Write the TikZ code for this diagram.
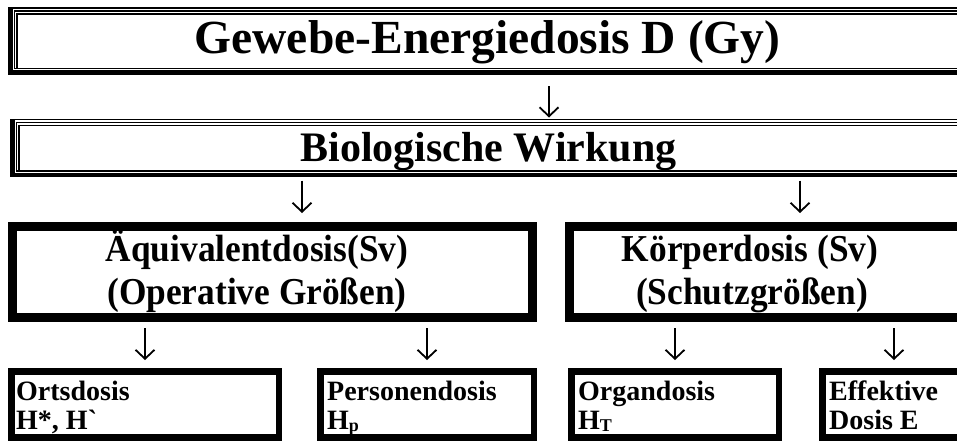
\documentclass[tikz,border=0pt]{standalone}
\usepackage{fontspec}
\newfontfamily\normfont{Liberation Serif}
\newfontfamily\schmalfont[FakeStretch=0.93]{Liberation Serif}
\usetikzlibrary{arrows.meta,positioning,calc}

\begin{document}
\begin{tikzpicture}[x=1pt,y=-1pt,
  rahmen/.style={draw, line width=1.1pt, inner sep=0pt, outer sep=0pt},
  dick/.style={draw, line width=#1, inner sep=0pt, outer sep=0pt},
  pfeil/.style={line width=1.2pt, -{Straight Barb[length=9pt,width=19pt,line width=1.8pt]}},
  titel/.style={font=\normfont\bfseries\fontsize{47.5}{54}\selectfont, anchor=base, inner sep=0pt},
  bio/.style={font=\normfont\bfseries\fontsize{42}{48}\selectfont, anchor=base, inner sep=0pt},
  mittel/.style={font=\schmalfont\bfseries\fontsize{38}{44}\selectfont, anchor=base, inner sep=0pt},
  klein/.style={font=\normfont\bfseries\fontsize{28}{31}\selectfont, anchor=base west, inner sep=0pt}]
\useasboundingbox (0,0) rectangle (957,440);
\clip (0,0) rectangle (957,440);
\fill[white] (0,0) rectangle (957,440);

% Gewebe-Energiedosis
\node[rahmen, minimum width=957pt, minimum height=66pt] (gewebe) at (487.5,41) {};
\draw[rahmen] ([shift={(5.5pt,-3pt)}]gewebe.north west) rectangle ([shift={(-3pt,5.5pt)}]gewebe.south east);
\draw[rahmen] ([shift={(8pt,-6pt)}]gewebe.north west) rectangle ([shift={(-6pt,5.5pt)}]gewebe.south east);
\draw[line width=4pt] ([xshift=2pt]gewebe.north west) |- ([yshift=2pt]gewebe.south east);
\node[titel] (gewebetext) at (487.5,53) {Gewebe-Energiedosis D (Gy)};

% Biologische Wirkung
\node[rahmen, minimum width=955pt, minimum height=57pt] (bio) at (488.5,148) {};
\draw[rahmen] ([shift={(5.5pt,-3pt)}]bio.north west) rectangle ([shift={(-3pt,5.5pt)}]bio.south east);
\draw[rahmen] ([shift={(8pt,-6pt)}]bio.north west) rectangle ([shift={(-6pt,5.5pt)}]bio.south east);
\draw[line width=4pt] ([xshift=2pt]bio.north west) |- ([yshift=2pt]bio.south east);
\node[bio] (biotext) at (488.5,161) {Biologische Wirkung};

% zweite Ebene
\node[dick=9pt, minimum width=520pt, minimum height=91pt] (aequi) at (272.5,272) {};
\node[mittel] (aequi1) at (257,261) {Äquivalentdosis(Sv)};
\node[mittel] (aequi2) at (257,304) {(Operative Größen)};
\node[dick=9pt, minimum width=405.5pt, minimum height=91pt] (koerper) at (772.25,272) {};
\node[mittel] (koerper1) at (750,261) {Körperdosis (Sv)};
\node[mittel] (koerper2) at (752,304) {(Schutzgrößen)};

% dritte Ebene
\node[dick=6.5pt, minimum width=267.5pt, minimum height=66.25pt] (orts) at (145,404.4) {};
\node[klein] (orts1) at (16,400) {Ortsdosis};
\node[klein] (orts2) at (16,429) {H*, H`};
\node[dick=6.5pt, minimum width=213.5pt, minimum height=66.25pt] (person) at (427,404.4) {};
\node[klein] (person1) at (327,400) {Personendosis};
\node[klein] (person2) at (327,429) {H\raisebox{-2pt}{\fontsize{18}{18}\selectfont p}};
\node[dick=6.5pt, minimum width=207.5pt, minimum height=66.25pt] (organ) at (675,404.4) {};
\node[klein] (organ1) at (578,400) {Organdosis};
\node[klein] (organ2) at (578,429) {H\raisebox{-2pt}{\fontsize{18}{18}\selectfont T}};
\node[dick=6.5pt, minimum width=143.5pt, minimum height=66.25pt] (effektiv) at (894,404.4) {};
\node[klein] (effektiv1) at (829,400) {Effektive};
\node[klein] (effektiv2) at (829,429) {Dosis E};

% Pfeile
\coordinate (k1) at (549,0);
\coordinate (k2) at (302,0);
\coordinate (k3) at (800,0);
\draw[pfeil, shorten <=12pt, shorten >=2pt] (gewebe.south -| k1) -- (bio.north -| k1);
\draw[pfeil, shorten <=4pt, shorten >=13.5pt] (bio.south -| k2) -- (aequi.north -| k2);
\draw[pfeil, shorten <=4pt, shorten >=13.5pt] (bio.south -| k3) -- (koerper.north -| k3);
\draw[pfeil, shorten <=10.5pt, shorten >=11.25pt] (aequi.south -| orts.north) -- (orts.north);
\draw[pfeil, shorten <=10.5pt, shorten >=11.25pt] (aequi.south -| person.north) -- (person.north);
\draw[pfeil, shorten <=10.5pt, shorten >=11.25pt] (koerper.south -| organ.north) -- (organ.north);
\draw[pfeil, shorten <=10.5pt, shorten >=11.25pt] (koerper.south -| effektiv.north) -- (effektiv.north);
\end{tikzpicture}
\end{document}
